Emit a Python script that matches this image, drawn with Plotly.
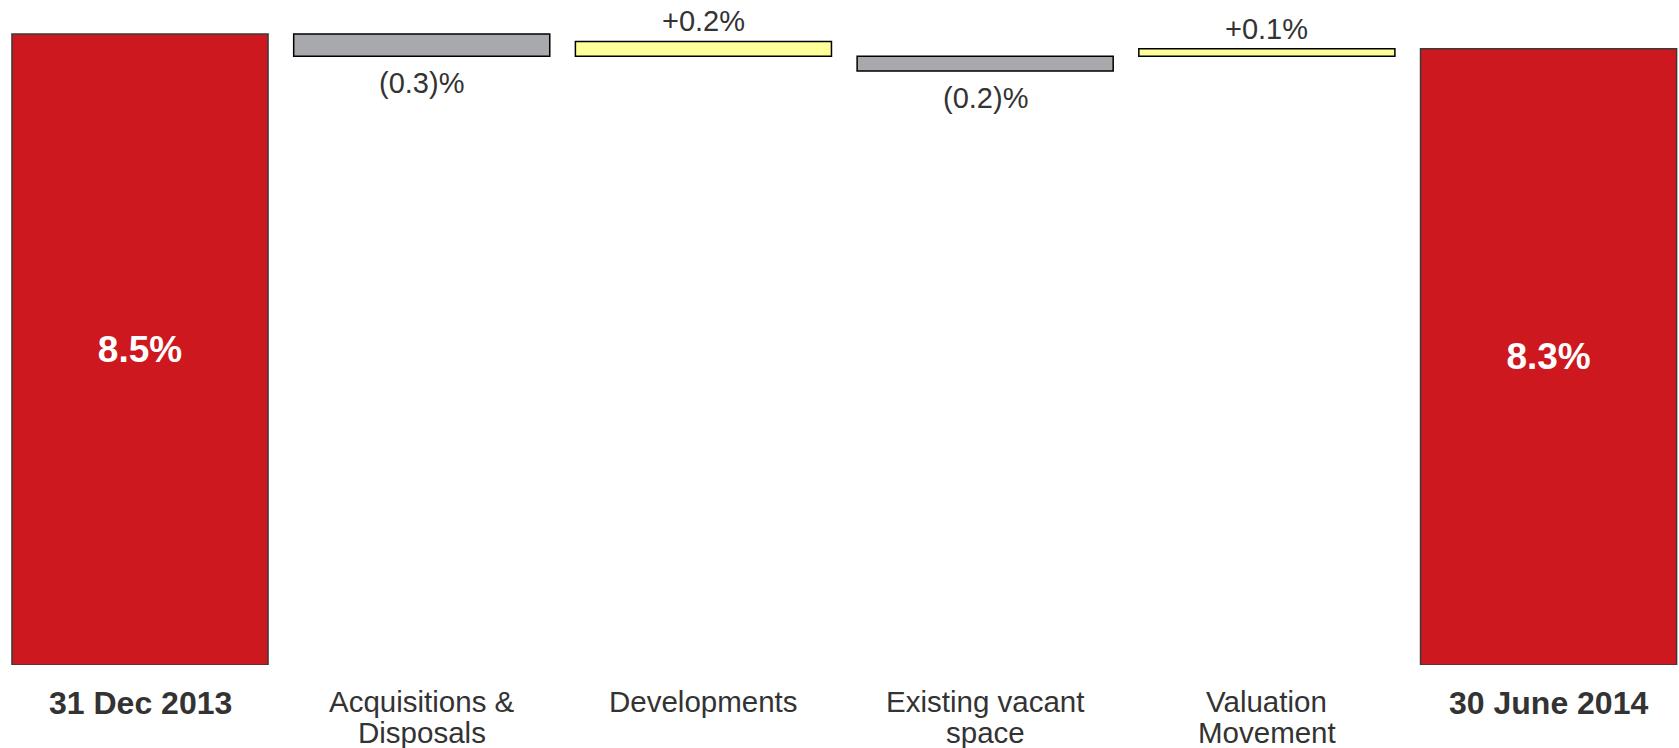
import plotly.graph_objects as go

categories = ["31 Dec 2013", "Acquisitions & Disposals", "Developments",
              "Existing vacant space", "Valuation Movement", "30 June 2014"]
tick_lines = [["31 Dec 2013"], ["Acquisitions &", "Disposals"], ["Developments"],
              ["Existing vacant", "space"], ["Valuation", "Movement"], ["30 June 2014"]]
bar_base = [0, 8.5, 8.2, 8.2, 8.2, 0]
bar_change = [8.5, -0.3, 0.2, -0.2, 0.1, 8.3]
value_labels = ["8.5%", "(0.3)%", "+0.2%", "(0.2)%", "+0.1%", "8.3%"]
is_total = [True, False, False, False, False, True]

RED = "#CC181E"
GREY = "#A7A9AC"
YELLOW = "#FFFF99"
TEXT = "#333333"
FONT = "Liberation Sans, Arial, sans-serif"

colors = []
outlines = []
for tot, ch in zip(is_total, bar_change):
    if tot:
        colors.append(RED)
        outlines.append("#3a3a3a")
    else:
        colors.append(YELLOW if ch > 0 else GREY)
        outlines.append("#000000")

inside_text = [t if tot else "" for t, tot in zip(value_labels, is_total)]

fig = go.Figure()
fig.add_trace(go.Bar(
    x=categories, y=bar_change, base=bar_base, width=0.909,
    marker=dict(color=colors, line=dict(color=outlines, width=1.5)),
    text=inside_text, textposition="inside", insidetextanchor="middle",
    textfont=dict(family=FONT, size=37, color="white"),
    texttemplate="<b>%{text}</b>", hoverinfo="skip", showlegend=False,
))

annotations = []
for cat, b, ch, lab, tot in zip(categories, bar_base, bar_change, value_labels, is_total):
    if tot:
        continue
    annotations.append(dict(x=cat, y=b + ch, text=lab, showarrow=False,
                            yanchor="middle", yshift=20 if ch > 0 else -27,
                            font=dict(size=29, color=TEXT)))

# category labels below the bars (tight line spacing as in the original)
for cat, lines, tot in zip(categories, tick_lines, is_total):
    for i, line in enumerate(lines):
        annotations.append(dict(
            x=cat, y=0, text=f"<b>{line}</b>" if tot else line, showarrow=False,
            yanchor="middle", yshift=(-37.5 if tot else -36) - 31.5 * i,
            font=dict(size=32 if tot else 29.5, color=TEXT)))

fig.update_layout(
    width=1679, height=748,
    margin=dict(l=0, r=0, t=10, b=83),
    paper_bgcolor="white", plot_bgcolor="white",
    font=dict(family=FONT, size=29, color=TEXT),
    annotations=annotations,
    xaxis=dict(type="category", range=[-0.497, 5.463], showline=False, showgrid=False,
               zeroline=False, ticks="", showticklabels=False),
    yaxis=dict(range=[0, 8.823], visible=False, showgrid=False, zeroline=False),
)

fig.write_html("out.html")
